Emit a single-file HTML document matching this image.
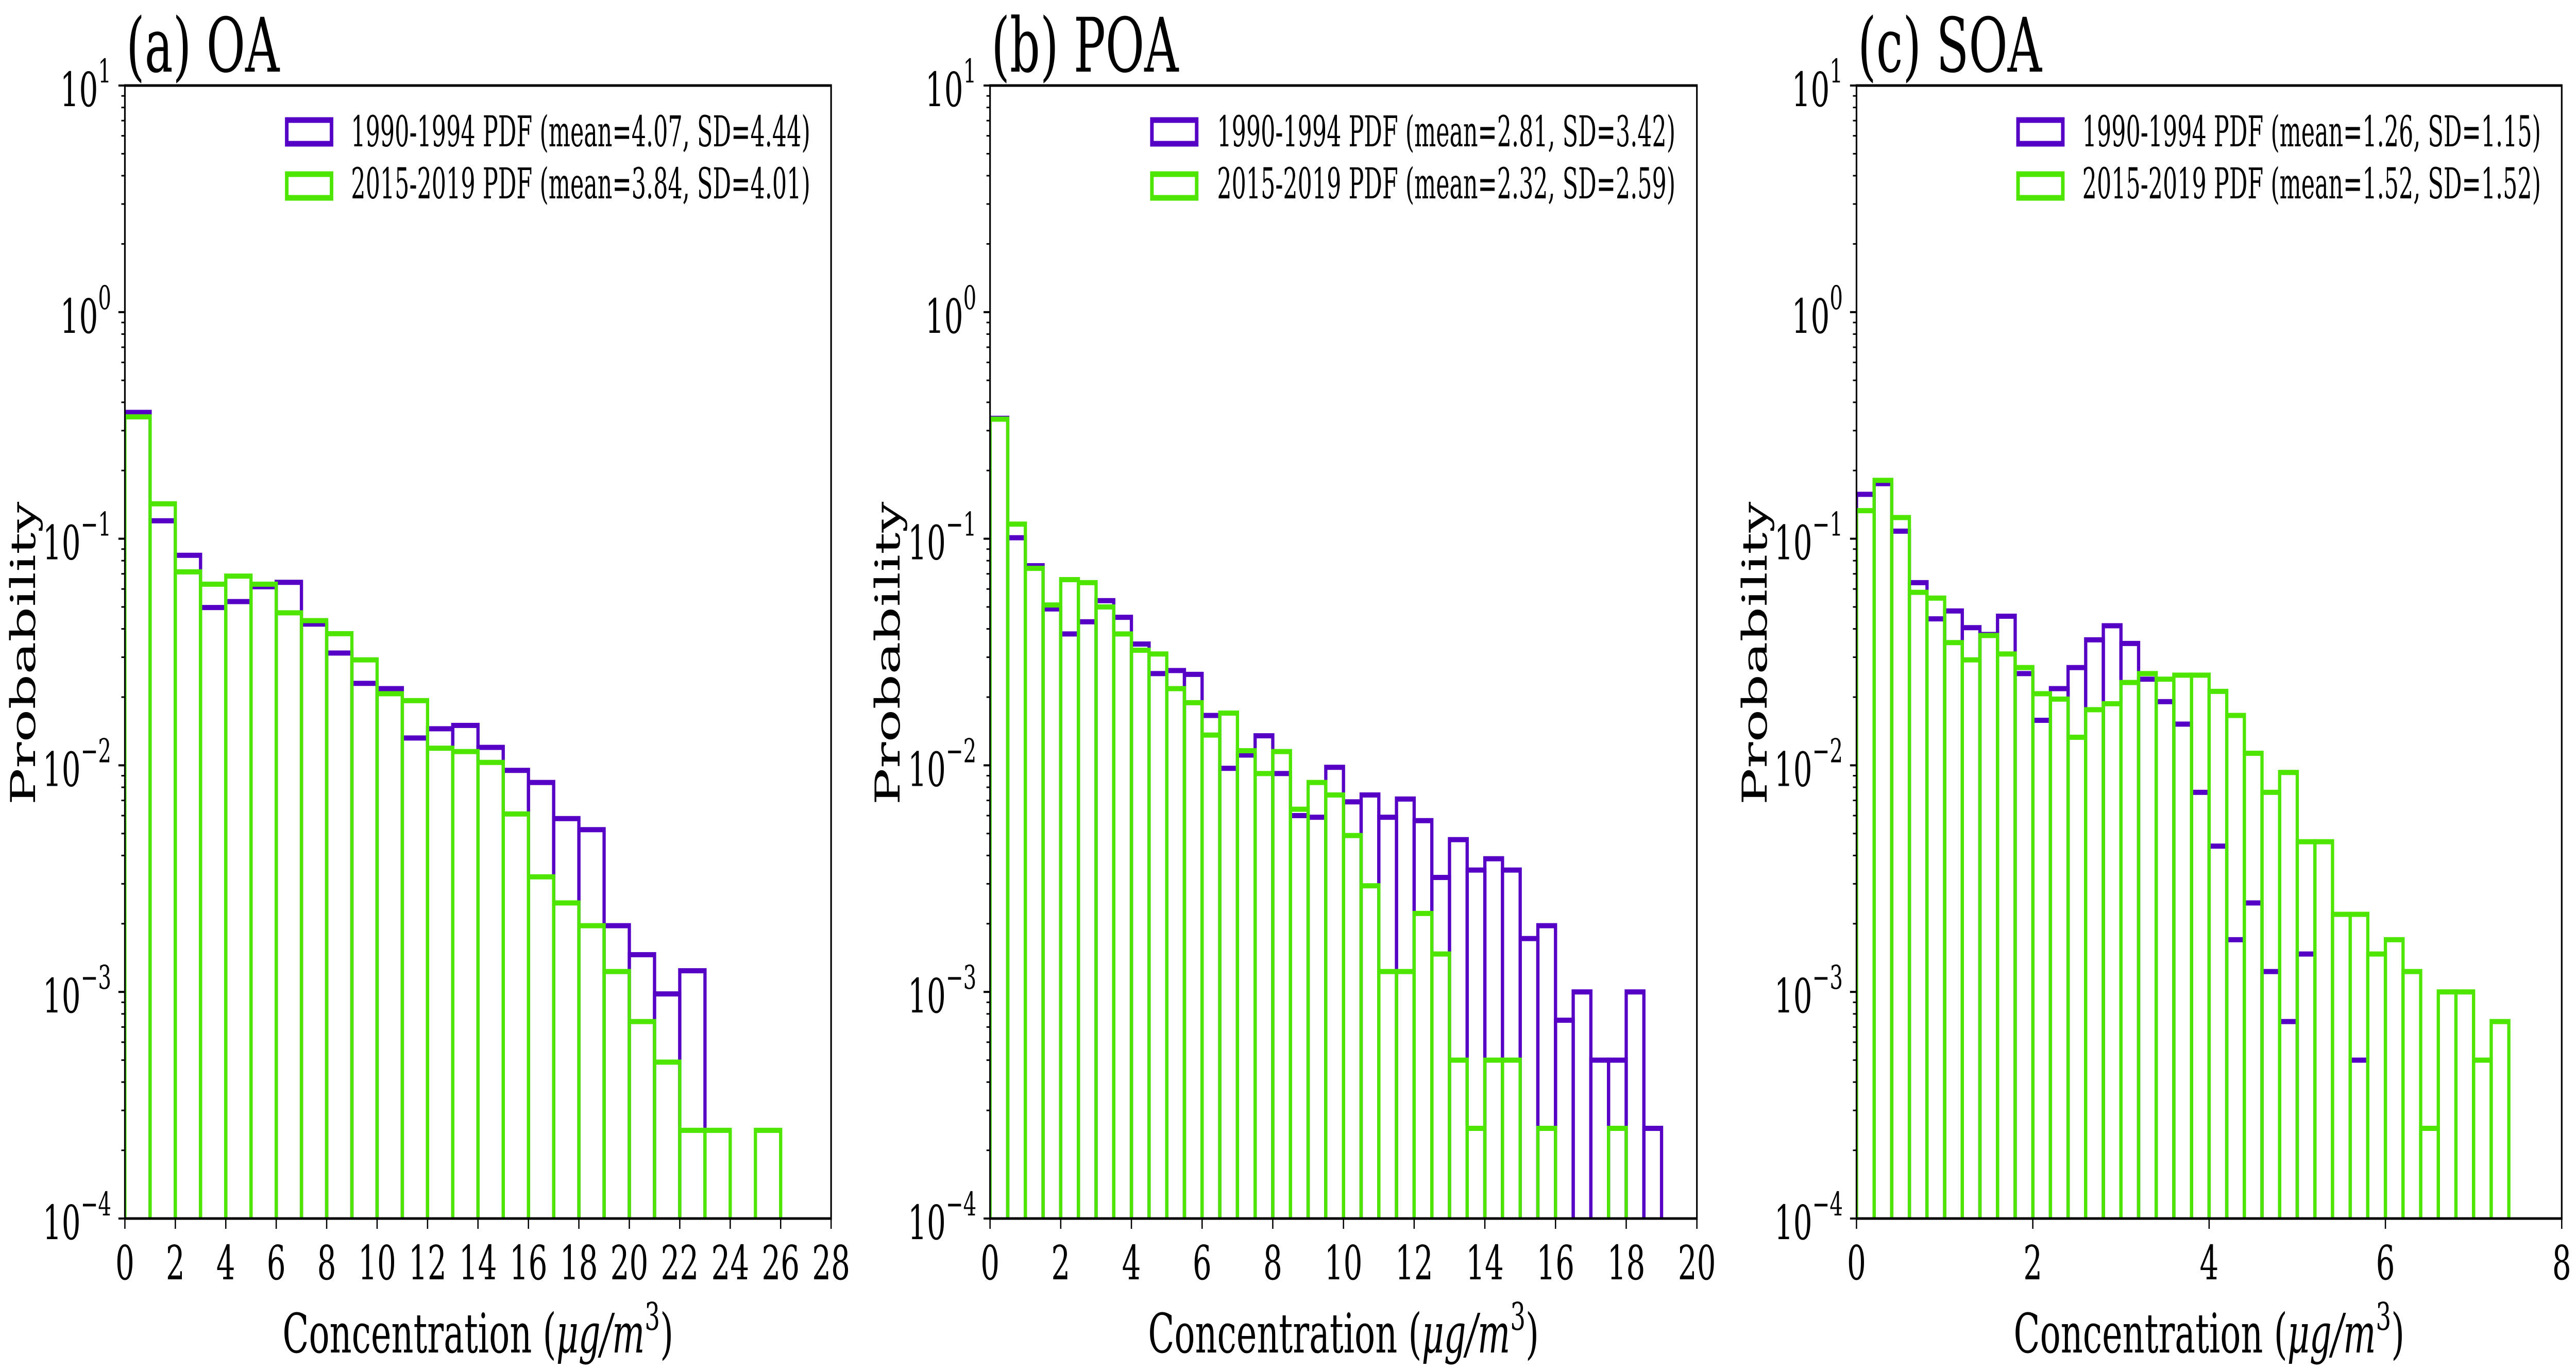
<!DOCTYPE html>
<html><head><meta charset="utf-8"><style>
html,body{margin:0;padding:0;background:#fff;width:100%;height:100%;overflow:hidden;}
svg{display:block;position:absolute;left:0;top:0;width:100vw;height:100vh;}
text{font-family:"DejaVu Serif","Liberation Serif",serif;fill:#000;}
</style></head>
<body>
<svg id="fig" viewBox="0 0 7941 2659" preserveAspectRatio="none" xmlns="http://www.w3.org/2000/svg"></svg>
<script>
// ---- data (probabilities per bin) ----
const oaBinWidth = 1;
const oaXTicks = [0,2,4,6,8,10,12,14,16,18,20,22,24,26,28];
const oa1990 = [0.361,0.12,0.0845,0.0497,0.0528,0.0614,0.0642,0.042,0.0313,0.023,0.0218,0.0132,0.0145,0.015,0.012,0.0095,0.0084,0.00582,0.0052,0.00196,0.00146,0.00098,0.00124,0,0,0];
const oa2015 = [0.345,0.1426,0.0714,0.063,0.0684,0.063,0.0471,0.0435,0.0381,0.0292,0.0207,0.0193,0.0119,0.0115,0.0103,0.0061,0.00322,0.00247,0.00196,0.00123,0.00074,0.00049,0.000245,0.000245,0,0.000245];
const poaBinWidth = 0.5;
const poaXTicks = [0,2,4,6,8,10,12,14,16,18,20];
const poa1990 = [0.34,0.101,0.076,0.049,0.038,0.043,0.0533,0.045,0.0343,0.0254,0.0262,0.0252,0.0166,0.0097,0.0111,0.0135,0.0092,0.006,0.0059,0.0098,0.0069,0.0074,0.0059,0.0071,0.0057,0.0032,0.0047,0.00345,0.00387,0.00345,0.00172,0.00196,0.00075,0.001,0.0005,0.0005,0.001,0.00025];
const poa2015 = [0.337,0.116,0.074,0.051,0.066,0.064,0.05,0.038,0.0322,0.031,0.0218,0.0189,0.0136,0.017,0.0116,0.0092,0.0115,0.0064,0.0084,0.0074,0.0049,0.00294,0.00123,0.00123,0.00222,0.00147,0.0005,0.00025,0.0005,0.0005,0,0.00025,0,0,0,0.00025,0,0];
const soaBinWidth = 0.2;
const soaXTicks = [0,2,4,6,8];
const soa1990 = [0.157,0.175,0.108,0.064,0.0443,0.048,0.0405,0.0378,0.0455,0.0254,0.0158,0.0218,0.027,0.0358,0.0413,0.0345,0.024,0.0191,0.0152,0.0076,0.0044,0.0017,0.00247,0.00123,0.00074,0.00147,0,0,0.0005,0,0,0,0,0,0,0,0];
const soa2015 = [0.133,0.181,0.124,0.058,0.0547,0.0348,0.0292,0.0374,0.031,0.027,0.0207,0.0196,0.0133,0.0176,0.0187,0.0232,0.0254,0.024,0.025,0.025,0.0212,0.0166,0.0113,0.0076,0.0093,0.0046,0.0046,0.0022,0.0022,0.00147,0.0017,0.00123,0.00025,0.001,0.001,0.0005,0.00074];
const legendOA = ["1990-1994 PDF (mean=4.07, SD=4.44)","2015-2019 PDF (mean=3.84, SD=4.01)"];
const legendPOA = ["1990-1994 PDF (mean=2.81, SD=3.42)","2015-2019 PDF (mean=2.32, SD=2.59)"];
const legendSOA = ["1990-1994 PDF (mean=1.26, SD=1.15)","2015-2019 PDF (mean=1.52, SD=1.52)"];
const yDecades = [1,0,-1,-2,-3,-4];

const NS = "http://www.w3.org/2000/svg";
const svg = document.getElementById('fig');
const PURPLE = "#5500c4", GREEN = "#4ee600";
function mk(tag, attrs, parent){
  const e = document.createElementNS(NS, tag);
  for (const k in attrs) e.setAttribute(k, attrs[k]);
  (parent||svg).appendChild(e);
  return e;
}
const TOP = 166, BOT = 2365;
function panel(id, L, R, xMax, bw, d1, d2, xticks, title, legend, ylabX, legBoxX, legTextX, legTextW){
  const g = mk('g', {});
  
  
  const xs = v => L + (v / xMax) * (R - L);
  const ys = v => TOP + (1 - Math.log10(v)) / 5 * (BOT - TOP);
  const clip = mk('clipPath', {id: 'clip-' + id}, g);
  mk('rect', {x: L, y: TOP, width: R - L, height: BOT - TOP}, clip);
  const bars = mk('g', {'clip-path': 'url(#clip-' + id + ')'}, g);
  [[d1, PURPLE, '1990'], [d2, GREEN, '2015']].forEach(([arr, col, nm]) => {
    arr.forEach((v, i) => {
      if (v <= 0) return;
      const x0 = xs(i * bw), x1 = xs((i + 1) * bw), y = ys(v);
      const r = mk('rect', {x: x0, y: y, width: x1 - x0, height: BOT + 20 - y, fill: 'none', stroke: col, 'stroke-width': 10}, bars);
      
      
    });
  });
  const frame = mk('rect', {x: L, y: TOP, width: R - L, height: BOT - TOP, fill: 'none', stroke: '#000', 'stroke-width': 5}, g);
  
  
  xticks.forEach(t => {
    const x = xs(t);
    mk('line', {x1: x, x2: x, y1: BOT, y2: BOT + 20, stroke: '#000', 'stroke-width': 4}, g);
    const tx = mk('text', {x: x, y: 2483, 'font-size': 92, 'text-anchor': 'middle'}, g);
    tx.textContent = String(t);
    
    
  });
  yDecades.forEach(dcd => {
    const y = ys(Math.pow(10, dcd));
    mk('line', {x1: L - 20, x2: L, y1: y, y2: y, stroke: '#000', 'stroke-width': 4}, g);
    if (dcd > -4) for (let m = 2; m <= 9; m++) {
      const ym = ys(m * Math.pow(10, dcd - 1));
      mk('line', {x1: L - 11, x2: L, y1: ym, y2: ym, stroke: '#000', 'stroke-width': 3}, g);
    }
    const tx = mk('text', {x: L - 42, y: y + 40, 'font-size': 92, 'text-anchor': 'end'}, g);
    
    
    const base = mk('tspan', {}, tx); base.textContent = '10';
    const sup = mk('tspan', {dy: -46, 'font-size': 64}, tx);
    sup.textContent = dcd < 0 ? '\u2212' + (-dcd) : String(dcd);
  });
  const tt = mk('text', {x: L + 4, y: 139, 'font-size': 146}, g);
  tt.textContent = title;
  
  
  const xl = mk('text', {x: (L + R) / 2, y: 2625, 'font-size': 106, 'text-anchor': 'middle'}, g);
  
  
  mk('tspan', {}, xl).textContent = 'Concentration (';
  mk('tspan', {'font-style': 'italic'}, xl).textContent = '\u03bcg/m';
  mk('tspan', {dy: -44, 'font-size': 74}, xl).textContent = '3';
  mk('tspan', {dy: 44}, xl).textContent = ')';
  const yl = mk('text', {x: 0, y: 0, 'font-size': 106, 'text-anchor': 'middle', transform: 'translate(' + ylabX + ',1268) rotate(-90)'}, g);
  yl.textContent = 'Probability';
  
  
  [[PURPLE, 228, 284], [GREEN, 333, 385]].forEach(([col, by, tyb], k) => {
    const b = mk('rect', {x: legBoxX + 5, y: by + 5, width: 138, height: 46, fill: 'none', stroke: col, 'stroke-width': 11}, g);
    
    
    const lt = mk('text', {x: legTextX, y: tyb, 'font-size': 82, textLength: legTextW, lengthAdjust: 'spacingAndGlyphs'}, g);
    lt.textContent = legend[k];
    
    
  });
}
panel('oa', 385, 2562, 28, oaBinWidth, oa1990, oa2015, oaXTicks, '(a) OA', legendOA, 108, 879, 1082, 1416);
panel('poa', 3052, 5231, 20, poaBinWidth, poa1990, poa2015, poaXTicks, '(b) POA', legendPOA, 2773, 3546, 3752, 1413);
panel('soa', 5723, 7897, 8, soaBinWidth, soa1990, soa2015, soaXTicks, '(c) SOA', legendSOA, 5446, 6216, 6419, 1414);
</script>
</body></html>
